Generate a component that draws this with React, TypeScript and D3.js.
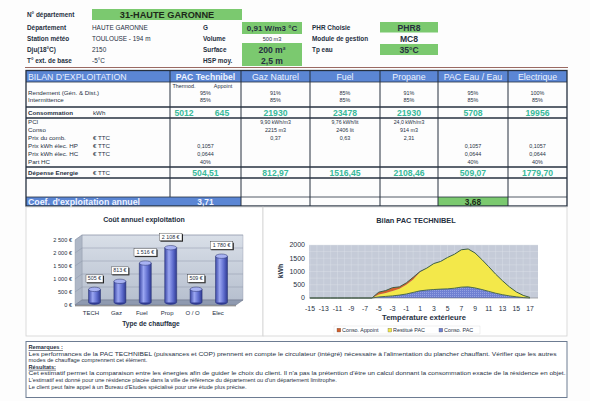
import React from 'react';
import * as d3 from 'd3';

const FONT = "'Liberation Sans', Arial, sans-serif";
const GREEN = '#7bc96f';
const BLUE = '#5b86d4';
const TEAL = '#38b99a';
const INK = '#26303f';

// --- fiche header ---
const headLabels = ['N° département', 'Département', 'Station météo', 'Dju(18°C)', 'T° ext. de base'];
const headValues = ['', 'HAUTE GARONNE', 'TOULOUSE - 194 m', '2150', '-5°C'];
const midLabels = ['', 'G', 'Volume', 'Surface', 'HSP moy.'];
const rightLabels = ['', 'PHR Choisie', 'Module de gestion', 'Tp eau', ''];

// --- bilan d'exploitation ---
const energies = ['PAC Technibel', 'Gaz Naturel', 'Fuel', 'Propane', 'PAC Eau / Eau', 'Electrique'];
const rendement = ['95%', '91%', '85%', '91%', '95%', '100%'];
const intermittence = ['85%', '85%', '85%', '85%', '85%', '85%'];
const consoKwh = ['5012', '21930', '23478', '21930', '5708', '19956'];
const consoAppoint = '645';
const pci = ['', '9,90 kWh/m3', '9,76 kWh/lit', '24,0 kWh/m3', '', ''];
const consoQty = ['', '2215 m3', '2406 lit', '914 m3', '', ''];
const prixComb = ['', '0,37', '0,63', '2,31', '', ''];
const prixHP = ['0,1057', '', '', '', '0,1057', '0,1057'];
const prixHC = ['0,0644', '', '', '', '0,0644', '0,0644'];
const partHC = ['40%', '', '', '', '40%', '40%'];
const depense = ['504,51', '812,97', '1516,45', '2108,46', '509,07', '1779,70'];
const coef = ['3,71', '', '', '', '3,68', ''];

// --- cout annuel ---
const costCats = ['TECH', 'Gaz', 'Fuel', 'Prop', 'O / O', 'Elec'];
const costValues = [505, 813, 1516, 2108, 509, 1780];
const costTicks = [0, 500, 1000, 1500, 2000, 2500];

// --- bilan PAC ---
const temps = [-15, -14, -13, -12, -11, -10, -9, -8, -7, -6, -5, -4, -3, -2, -1, 0, 1, 2, 3, 4, 5, 6, 7, 8, 9, 10, 11, 12, 13, 14, 15, 16, 17];
const consoPac = [0, 0, 0, 0, 0, 0, 0, 0, 0, 0, 40, 60, 80, 110, 150, 210, 270, 300, 320, 335, 345, 370, 410, 420, 380, 320, 250, 180, 125, 80, 45, 15, 0];
const restituePac = [0, 0, 0, 0, 0, 0, 0, 0, 0, 0, 90, 130, 180, 240, 350, 490, 710, 830, 980, 1045, 1185, 1280, 1410, 1430, 1320, 1130, 930, 720, 525, 340, 185, 85, 20];
const consoAppointT = [0, 0, 0, 0, 0, 0, 0, 0, 0, 0, 90, 90, 130, 70, 70, 80, 20, 0, 0, 0, 0, 0, 0, 0, 0, 0, 0, 0, 0, 0, 0, 0, 0];
const tempTicks = [-15, -13, -11, -9, -7, -5, -3, -1, 1, 3, 5, 7, 9, 11, 13, 15, 17];
const kwhTicks = [0, 500, 1000, 1500, 2000];

const remarks = [
  { t: 'Remarques :', b: true },
  { t: "Les performances de la PAC TECHNIBEL (puissances et COP) prennent en compte le circulateur (intégré) nécessaire à l'alimentation du plancher chauffant. Vérifier que les autres", w: 528 },
  { t: 'modes de chauffage comprennent cet élément.' },
  { t: 'Résultats:', b: true },
  { t: "Cet estimatif permet la comparaison entre les énergies afin de guider le choix du client. Il n'a pas la prétention d'être un calcul donnant la consommation exacte de la résidence en objet.", w: 537 },
  { t: "L'estimatif est donné pour une résidence placée dans la ville de référence du département ou d'un département limitrophe." },
  { t: "Le client peut faire appel à un Bureau d'Etudes spécialisé pour une étude plus précise." },
];

const fmtEur = d3.formatLocale({ decimal: ',', thousands: ' ', grouping: [3], currency: ['', ' €'] }).format('$,.0f');

const T = (p: any) => <text fontFamily={FONT} fill={INK} fontSize={6.2} {...p} />;

const Header = () => {
  const ys = [15, 28, 39, 50, 61];
  return (
    <g>
      <rect x={92} y={9} width={150} height={11} fill={GREEN} />
      <text x={167} y={18} textAnchor="middle" fontFamily={FONT} fontWeight="bold" fontSize={9.2} fill="#1d2a1a">31-HAUTE GARONNE</text>
      {headLabels.map((l, i) => <T key={l} x={27} y={ys[i] + 2.2} fontWeight="bold" fontSize={6.4}>{l}</T>)}
      {headValues.map((v, i) => v && <T key={'v' + i} x={92} y={ys[i] + 2.2} fontSize={6.4}>{v}</T>)}
      {midLabels.map((l, i) => l && <T key={'m' + i} x={203} y={ys[i] + 2.2} fontWeight="bold" fontSize={6.4}>{l}</T>)}
      {rightLabels.map((l, i) => l && <T key={'r' + i} x={312} y={ys[i] + 2.2} fontWeight="bold" fontSize={6.4}>{l}</T>)}
      <rect x={242} y={22} width={60} height={12} fill={GREEN} />
      <T x={272} y={31} textAnchor="middle" fontWeight="bold" fontSize={8}>0,91 W/m3 °C</T>
      <T x={272} y={41} textAnchor="middle" fontSize={5.6}>500 m3</T>
      <rect x={242} y={43} width={60} height={23} fill={GREEN} />
      <T x={272} y={52.8} textAnchor="middle" fontWeight="bold" fontSize={8.6}>200 m²</T>
      <T x={272} y={63.8} textAnchor="middle" fontWeight="bold" fontSize={8.6}>2,5 m</T>
      <rect x={380} y={22} width={58} height={10.5} fill={GREEN} />
      <T x={409} y={30.5} textAnchor="middle" fontWeight="bold" fontSize={8.6}>PHR8</T>
      <T x={409} y={42} textAnchor="middle" fontWeight="bold" fontSize={8.6}>MC8</T>
      <rect x={380} y={44} width={58} height={11} fill={GREEN} />
      <T x={409} y={52.8} textAnchor="middle" fontWeight="bold" fontSize={8.6}>35°C</T>
      <line x1={25} x2={568} y1={67.5} y2={67.5} stroke="#9a6a62" strokeWidth={1} />
    </g>
  );
};

const Bilan = () => {
  const edges = [26, 170, 241, 310, 380, 438, 508, 567];
  const cx = energies.map((_, i) => (edges[i + 1] + edges[i + 2]) / 2);
  const colText = (arr: string[], y: number, key: string, extra: any = {}) =>
    arr.map((v, i) => v && <T key={key + i} x={cx[i]} y={y} textAnchor="middle" fontSize={5.4} {...extra}>{v}</T>);
  const big = { fontFamily: FONT, fontSize: 8.6, fontWeight: 'bold', fill: TEAL, textAnchor: 'middle' } as any;
  return (
    <g>
      <rect x={26} y={71} width={541} height={11} fill={BLUE} />
      <rect x={26} y={197} width={215} height={9} fill={BLUE} />
      <rect x={438} y={197} width={70} height={9} fill={GREEN} />
      {[82, 107, 118, 167, 178, 197].map(y => (
        <line key={y} x1={26} x2={567} y1={y} y2={y} stroke={INK} strokeWidth={y === 82 || y === 197 ? 0.8 : 1.4} />
      ))}
      {edges.slice(1, -1).map((x, i) => (
        <line key={x} x1={x} x2={x} y1={71} y2={i === 0 ? 197 : 206} stroke={INK} strokeWidth={1} />
      ))}
      <rect x={26} y={70.5} width={541} height={135.5} fill="none" stroke={INK} strokeWidth={1.3} />
      <T x={28} y={80} fill="#e8efff" fontSize={8.8}>BILAN D'EXPLOITATION</T>
      {energies.map((e, i) => (
        <T key={e} x={cx[i]} y={80} textAnchor="middle" fill="#eef3ff" fontSize={i === 0 ? 8.6 : 8.8} fontWeight={i === 0 ? 'bold' : 'normal'}>{e}</T>
      ))}
      <T x={184} y={87.6} textAnchor="middle" fontSize={5.4}>Thermod.</T>
      <T x={223} y={87.6} textAnchor="middle" fontSize={5.4}>Appoint</T>
      <T x={28} y={95.2}>Rendement (Gén. &amp; Dist.)</T>
      <T x={28} y={101.8}>Intermittence</T>
      {colText(rendement, 95, 'rd')}
      {colText(intermittence, 101.6, 'it')}
      <T x={28} y={115} fontWeight="bold">Consommation</T>
      <T x={93} y={115}>kWh</T>
      {consoKwh.map((v, i) => (
        <text key={'ck' + i} x={i === 0 ? 184 : cx[i]} y={115.8} {...big}>{v}</text>
      ))}
      <text x={222} y={115.8} {...big}>{consoAppoint}</text>
      {['PCI', 'Conso', 'Prix du comb.', 'Prix kWh élec. HP', 'Prix kWh élec. HC', 'Part HC'].map((l, i) => (
        <T key={l} x={28} y={124.2 + i * 8}>{l}</T>
      ))}
      {[2, 3, 4].map(i => <T key={'u' + i} x={93} y={124.2 + i * 8}>€ TTC</T>)}
      {colText(pci, 123.6, 'pc', { fontSize: 5.2 })}
      {colText(consoQty, 131.6, 'cq')}
      {colText(prixComb, 139.6, 'pb')}
      {colText(prixHP, 147.6, 'hp')}
      {colText(prixHC, 155.6, 'hc')}
      {colText(partHC, 163.6, 'ph')}
      <T x={28} y={175} fontWeight="bold">Dépense Energie</T>
      <T x={93} y={175}>€ TTC</T>
      {depense.map((v, i) => (
        <text key={'dp' + i} x={cx[i]} y={175.8} {...big}>{v}</text>
      ))}
      <T x={28} y={204.8} fill="#eef3ff" fontSize={8.8} fontWeight="bold">Coef. d'exploitation annuel</T>
      {coef.map((v, i) => v && (
        <T key={'cf' + i} x={cx[i]} y={204.8} textAnchor="middle" fontSize={8.4} fontWeight="bold" fill={i === 0 ? '#eef3ff' : '#1d2a1a'}>{v}</T>
      ))}
    </g>
  );
};

const CostChart = () => {
  const y = d3.scaleLinear().domain([0, 2500]).range([305, 240]);
  const x = d3.scalePoint<string>().domain(costCats).range([91, 218]);
  const dx = 7, dy = -5;
  const x0 = 75, x1 = 236;
  const bw = 12;
  return (
    <g>
      <defs>
        <linearGradient id="wall" x1="0" y1="0" x2="0" y2="1">
          <stop offset="0" stopColor="#d9dfe8" />
          <stop offset="1" stopColor="#b7c0cf" />
        </linearGradient>
        <linearGradient id="cyl" x1="0" y1="0" x2="1" y2="0">
          <stop offset="0" stopColor="#3a46a4" />
          <stop offset="0.35" stopColor="#9aa6f2" />
          <stop offset="0.7" stopColor="#5d6bcc" />
          <stop offset="1" stopColor="#2f3a90" />
        </linearGradient>
      </defs>
      <text x={144} y={222} textAnchor="middle" fontFamily={FONT} fontSize={7} fontWeight="bold" fill={INK}>Coût annuel exploitation</text>
      <rect x={x0 + dx} y={y(2500) + dy} width={x1 - x0} height={y(0) - y(2500)} fill="url(#wall)" stroke="#8f98a8" strokeWidth={0.4} />
      <polygon points={`${x0},${y(2500)} ${x0 + dx},${y(2500) + dy} ${x0 + dx},${y(0) + dy} ${x0},${y(0)}`} fill="#aeb7c6" stroke="#8f98a8" strokeWidth={0.4} />
      {costTicks.map(t => (
        <g key={t}>
          <line x1={x0 + dx} x2={x1 + dx} y1={y(t) + dy} y2={y(t) + dy} stroke="#8d97a9" strokeWidth={0.5} />
          <line x1={x0} x2={x0 + dx} y1={y(t)} y2={y(t) + dy} stroke="#8d97a9" strokeWidth={0.5} />
          <T x={72} y={y(t) + 2} textAnchor="end" fontSize={5.6}>{fmtEur(t)}</T>
        </g>
      ))}
      <polygon points={`${x0},${y(0)} ${x1},${y(0)} ${x1 + dx},${y(0) + dy} ${x0 + dx},${y(0) + dy}`} fill="#8f9ab0" stroke="#6d7689" strokeWidth={0.5} />
      <line x1={x0} x2={x1} y1={y(0) + 0.8} y2={y(0) + 0.8} stroke="#555" strokeWidth={0.8} />
      {costCats.map((c, i) => {
        const cx = (x(c) as number) + dx / 2;
        const base = y(0) + dy / 2;
        const top = y(costValues[i]) + dy / 2;
        const label = fmtEur(costValues[i]);
        const lw = label.length * 2.8 + 3;
        return (
          <g key={c}>
            <ellipse cx={cx} cy={base} rx={bw / 2} ry={2.2} fill="#2f3a90" />
            <rect x={cx - bw / 2} y={top} width={bw} height={base - top} fill="url(#cyl)" />
            <line x1={cx - bw / 2} x2={cx - bw / 2} y1={top} y2={base} stroke="#27306f" strokeWidth={0.5} />
            <line x1={cx + bw / 2} x2={cx + bw / 2} y1={top} y2={base} stroke="#27306f" strokeWidth={0.5} />
            <ellipse cx={cx} cy={top} rx={bw / 2} ry={2.2} fill="#a8b2f2" stroke="#27306f" strokeWidth={0.5} />
            <rect x={cx - lw / 2 + 1} y={top - 13.5} width={lw} height={7.5} fill="#222" />
            <rect x={cx - lw / 2} y={top - 14.5} width={lw} height={7.5} fill="#fff" stroke="#333" strokeWidth={0.4} />
            <T x={cx} y={top - 8.9} textAnchor="middle" fontSize={5.3}>{label}</T>
            <T x={x(c)} y={314.5} textAnchor="middle" fontSize={6}>{c}</T>
          </g>
        );
      })}
      <T x={151} y={326} textAnchor="middle" fontSize={6.6} fontWeight="bold">Type de chauffage</T>
    </g>
  );
};

const PacChart = () => {
  const x = d3.scaleLinear().domain([-15.15, 18.16]).range([309, 538]);
  const y = d3.scaleLinear().domain([0, 2000]).range([298, 245]);
  const rows = temps.map((t, i) => ({ t, pac: consoPac[i], restitue: restituePac[i], appoint: consoAppointT[i] }));
  const stack = d3.stack<any>().keys(['pac', 'restitue', 'appoint'])(rows);
  const area = d3.area<any>().x(d => x(d.data.t)).y0(d => y(d[0])).y1(d => y(d[1]));
  const top = d3.line<any>().x(d => x(d.data.t)).y(d => y(d[1]));
  const fills = ['url(#dots)', '#f3e84a', '#d3602c'];
  const legend = [
    { label: 'Conso. Appoint', color: '#d3602c', lx: 337 },
    { label: 'Restitué PAC', color: '#f3e84a', lx: 388 },
    { label: 'Conso. PAC', color: '#6f80d2', lx: 439 },
  ];
  const grid = d3.range(0, 2001, 250);
  return (
    <g>
      <defs>
        <pattern id="dots" width={2} height={2} patternUnits="userSpaceOnUse">
          <rect width={2} height={2} fill="#6f80d2" />
          <rect width={0.8} height={0.8} fill="#a8b4ea" />
        </pattern>
      </defs>
      <text x={416} y={223} textAnchor="middle" fontFamily={FONT} fontSize={7.4} fontWeight="bold" fill={INK}>Bilan PAC TECHNIBEL</text>
      <rect x={309} y={245} width={229} height={53} fill="#c5cbd8" />
      {temps.map(t => <line key={'v' + t} x1={x(t)} x2={x(t)} y1={245} y2={298} stroke="#dfe3ea" strokeWidth={0.4} />)}
      {grid.map(g => <line key={'h' + g} x1={309} x2={538} y1={y(g)} y2={y(g)} stroke="#dfe3ea" strokeWidth={0.4} />)}
      {stack.map((s, i) => <path key={s.key} d={area(s) || ''} fill={fills[i]} />)}
      <path d={top(stack[0]) || ''} fill="none" stroke="#3d5f45" strokeWidth={0.9} />
      <path d={top(stack[2]) || ''} fill="none" stroke="#3d5f45" strokeWidth={1} />
      <line x1={309} x2={538} y1={298} y2={298} stroke="#666" strokeWidth={0.5} />
      {kwhTicks.map(k => <T key={k} x={305} y={y(k) + 2.4} textAnchor="end" fontSize={7}>{k}</T>)}
      {tempTicks.map(t => <T key={t} x={x(t)} y={310.5} textAnchor="middle" fontSize={6.8}>{t}</T>)}
      <T x={424} y={320} textAnchor="middle" fontSize={7.6} fontWeight="bold">Température extérieure</T>
      <T x={0} y={0} transform="translate(282.5,271) rotate(-90)" textAnchor="middle" fontSize={6.8} fontWeight="bold">kWh</T>
      <rect x={334} y={326} width={146} height={8} fill="#fff" stroke="#e2e2e2" strokeWidth={0.5} />
      {legend.map(l => (
        <g key={l.label}>
          <rect x={l.lx} y={328.2} width={3.8} height={3.8} fill={l.color} stroke="#555" strokeWidth={0.3} />
          <T x={l.lx + 5} y={332.2} fontSize={5.4}>{l.label}</T>
        </g>
      ))}
    </g>
  );
};

const Remarks = () => (
  <g>
    <rect x={26} y={341.5} width={541} height={56} fill="#fff" stroke="#6d7c92" strokeWidth={1} />
    {remarks.map((r, i) => (
      <T key={i} x={28.5} y={349 + i * 6.6} fontSize={5.7} fontWeight={r.b ? 'bold' : 'normal'}
        textDecoration={r.b ? 'underline' : 'none'}
        textLength={r.w} lengthAdjust={r.w ? 'spacingAndGlyphs' : undefined}>{r.t}</T>
    ))}
  </g>
);

export default function App() {
  return (
    <svg width={590} height={401} viewBox="0 0 590 401" style={{ position: 'absolute', left: 0, top: 0, background: '#fff' }}>
      <rect width={590} height={401} fill="#fdfdfd" />
      <Header />
      <Bilan />
      <rect x={26} y={207} width={237} height={129} fill="#fff" stroke="#d2d2d2" strokeWidth={0.8} />
      <rect x={263} y={207} width={304} height={129} fill="#fff" stroke="#d2d2d2" strokeWidth={0.8} />
      <CostChart />
      <PacChart />
      <Remarks />
    </svg>
  );
}
